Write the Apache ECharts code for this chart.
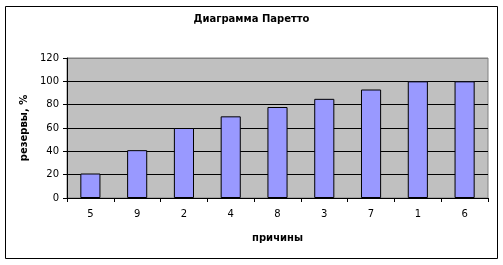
<!DOCTYPE html>
<html><head><meta charset="utf-8">
<script src="https://cdn.jsdelivr.net/npm/echarts@6/dist/echarts.min.js"></script>
<style>html,body{margin:0;padding:0;background:#fff}#c{width:503px;height:265px}</style>
</head><body><div id="c"></div>
<script>
const categories = ['5','9','2','4','8','3','7','1','6'];
const reserves = [21, 41, 60, 70, 78, 85, 93, 100, 100];
const titleText = 'Диаграмма Паретто';
const yName = 'резервы, %';
const xName = 'причины';
const chart = echarts.init(document.getElementById('c'), null, {renderer:'canvas'});
const font = 'DejaVu Sans';
chart.setOption({
  animation:false,
  backgroundColor:'#ffffff',
  title:{text:titleText,left:'center',top:9,textStyle:{fontFamily:font,fontSize:10,fontWeight:'bold',color:'#000'}},
  graphic:[{type:'rect',shape:{x:5.5,y:6.5,width:492,height:252},style:{fill:'none',stroke:'#000',lineWidth:1},z:100}],
  grid:{left:67,right:15,top:58,bottom:67,show:true,backgroundColor:'#C0C0C0',borderColor:'#808080',borderWidth:1},
  xAxis:{type:'category',data:categories,
    name:xName,nameLocation:'middle',nameGap:35,
    nameTextStyle:{fontFamily:font,fontSize:10,fontWeight:'bold',color:'#000'},
    axisLine:{lineStyle:{color:'#000'}},
    axisTick:{show:true,length:4,lineStyle:{color:'#000'}},
    axisLabel:{fontFamily:font,fontSize:10,color:'#000',margin:11}},
  yAxis:{type:'value',min:0,max:120,interval:20,
    name:yName,nameLocation:'middle',nameGap:31,nameRotate:90,
    nameTextStyle:{fontFamily:font,fontSize:10,fontWeight:'bold',color:'#000',verticalAlign:'bottom'},
    axisLine:{show:true,lineStyle:{color:'#000'}},
    axisTick:{show:true,length:4,lineStyle:{color:'#000'}},
    axisLabel:{fontFamily:font,fontSize:10,color:'#000',margin:8},
    splitLine:{show:true,lineStyle:{color:['#000','#000','#000','#000','#000','#000','#808080'],width:1}}},
  series:[{type:'bar',data:reserves,barCategoryGap:'57%',
    itemStyle:{color:'#9999FF',borderColor:'#000',borderWidth:1}}]
});
</script></body></html>
